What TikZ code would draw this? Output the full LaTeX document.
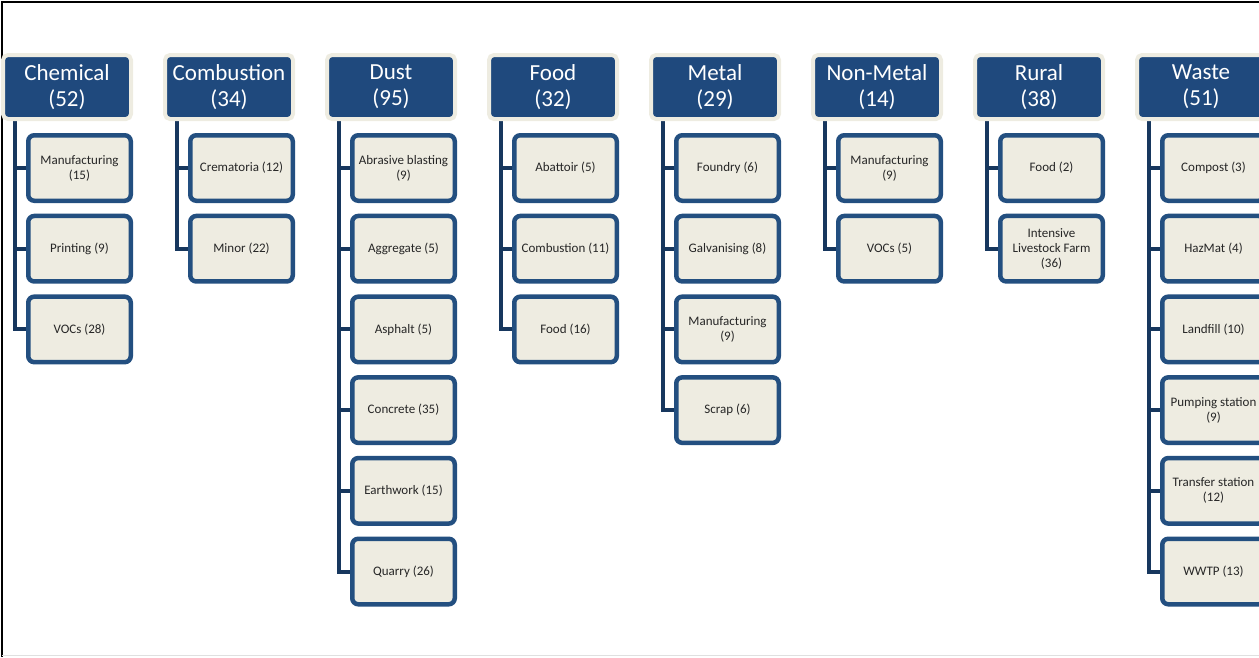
\documentclass[tikz,border=0pt]{standalone}
\usepackage{fontspec}
\setmainfont{Carlito}
\usetikzlibrary{backgrounds}

\definecolor{headblue}{HTML}{1F497D}
\definecolor{boxblue}{HTML}{234F80}
\definecolor{linkblue}{HTML}{17375E}
\definecolor{paper}{HTML}{EEECE1}

\begin{document}
\begin{tikzpicture}[
    x=1pt, y=-1pt,
    head/.style={rectangle, rounded corners=5pt, fill=headblue, draw=paper,
        line width=4pt, minimum width=128, minimum height=64, inner sep=0pt,
        align=center, text=white, font=\fontsize{23}{26}\selectfont},
    leaf/.style={rectangle, rounded corners=6pt, fill=paper, draw=boxblue,
        line width=4.5pt, minimum width=102.5, minimum height=65.5, inner sep=0pt,
        align=center, text=black!85, font=\fontsize{13}{15}\selectfont},
    link/.style={linkblue, line width=4pt}]
    \useasboundingbox (0,0) rectangle (1259,657);
    \clip (0,0) rectangle (1259,657);

    % Frame
    \draw[black, line width=2pt] (2,657) -- (2,1.5) -- (1259,1.5);
    \draw[black!12, line width=1pt] (2,655.5) -- (1259,655.5);

    % Headers
    \node[head] (chem) at (67,87) {Chemical\\(52)};
    \node[head] (comb) at (229,87) {Combustion\\(34)};
    \node[head] (dust) at (391,87) {Dust\\(95)};
    \node[head] (food) at (553,87) {Food\\(32)};
    \node[head] (metal) at (715,87) {Metal\\(29)};
    \node[head] (nonmetal) at (877,87) {Non-Metal\\(14)};
    \node[head] (rural) at (1039,87) {Rural\\(38)};
    \node[head] (waste) at (1201,87) {Waste\\(51)};

    % Trunk tops under each header
    \coordinate (chemT) at (15,117);
    \coordinate (combT) at (177,117);
    \coordinate (dustT) at (339,117);
    \coordinate (foodT) at (501,117);
    \coordinate (metalT) at (663,117);
    \coordinate (nonmetalT) at (825,117);
    \coordinate (ruralT) at (987,117);
    \coordinate (wasteT) at (1149,117);

    % Chemical
    \node[leaf] (chem1) at (79.5,168) {Manufacturing\\(15)};
    \node[leaf] (chem2) at (79.5,248.7) {Printing (9)};
    \node[leaf] (chem3) at (79.5,329.4) {VOCs (28)};

    % Combustion
    \node[leaf] (comb1) at (241.5,168) {Crematoria (12)};
    \node[leaf] (comb2) at (241.5,248.7) {Minor (22)};

    % Dust
    \node[leaf] (dust1) at (403.5,168) {Abrasive blasting\\(9)};
    \node[leaf] (dust2) at (403.5,248.7) {Aggregate (5)};
    \node[leaf] (dust3) at (403.5,329.4) {Asphalt (5)};
    \node[leaf] (dust4) at (403.5,410.1) {Concrete (35)};
    \node[leaf] (dust5) at (403.5,490.8) {Earthwork (15)};
    \node[leaf] (dust6) at (403.5,571.5) {Quarry (26)};

    % Food
    \node[leaf] (food1) at (565.5,168) {Abattoir (5)};
    \node[leaf] (food2) at (565.5,248.7) {Combustion (11)};
    \node[leaf] (food3) at (565.5,329.4) {Food (16)};

    % Metal
    \node[leaf] (metal1) at (727.5,168) {Foundry (6)};
    \node[leaf] (metal2) at (727.5,248.7) {Galvanising (8)};
    \node[leaf] (metal3) at (727.5,329.4) {Manufacturing\\(9)};
    \node[leaf] (metal4) at (727.5,410.1) {Scrap (6)};

    % Non-Metal
    \node[leaf] (nonmetal1) at (889.5,168) {Manufacturing\\(9)};
    \node[leaf] (nonmetal2) at (889.5,248.7) {VOCs (5)};

    % Rural
    \node[leaf] (rural1) at (1051.5,168) {Food (2)};
    \node[leaf] (rural2) at (1051.5,248.7) {Intensive\\Livestock Farm\\(36)};

    % Waste
    \node[leaf] (waste1) at (1213.5,168) {Compost (3)};
    \node[leaf] (waste2) at (1213.5,248.7) {HazMat (4)};
    \node[leaf] (waste3) at (1213.5,329.4) {Landfill (10)};
    \node[leaf] (waste4) at (1213.5,410.1) {Pumping station\\(9)};
    \node[leaf] (waste5) at (1213.5,490.8) {Transfer station\\(12)};
    \node[leaf] (waste6) at (1213.5,571.5) {WWTP (13)};

    % Connectors (behind the boxes)
    \begin{pgfonlayer}{background}
    \draw[link] (chemT) |- (chem1.west);
    \draw[link] (chemT) |- (chem2.west);
    \draw[link] (chemT) |- (chem3.west);
    \draw[link] (combT) |- (comb1.west);
    \draw[link] (combT) |- (comb2.west);
    \draw[link] (dustT) |- (dust1.west);
    \draw[link] (dustT) |- (dust2.west);
    \draw[link] (dustT) |- (dust3.west);
    \draw[link] (dustT) |- (dust4.west);
    \draw[link] (dustT) |- (dust5.west);
    \draw[link] (dustT) |- (dust6.west);
    \draw[link] (foodT) |- (food1.west);
    \draw[link] (foodT) |- (food2.west);
    \draw[link] (foodT) |- (food3.west);
    \draw[link] (metalT) |- (metal1.west);
    \draw[link] (metalT) |- (metal2.west);
    \draw[link] (metalT) |- (metal3.west);
    \draw[link] (metalT) |- (metal4.west);
    \draw[link] (nonmetalT) |- (nonmetal1.west);
    \draw[link] (nonmetalT) |- (nonmetal2.west);
    \draw[link] (ruralT) |- (rural1.west);
    \draw[link] (ruralT) |- (rural2.west);
    \draw[link] (wasteT) |- (waste1.west);
    \draw[link] (wasteT) |- (waste2.west);
    \draw[link] (wasteT) |- (waste3.west);
    \draw[link] (wasteT) |- (waste4.west);
    \draw[link] (wasteT) |- (waste5.west);
    \draw[link] (wasteT) |- (waste6.west);
    \end{pgfonlayer}
\end{tikzpicture}
\end{document}
